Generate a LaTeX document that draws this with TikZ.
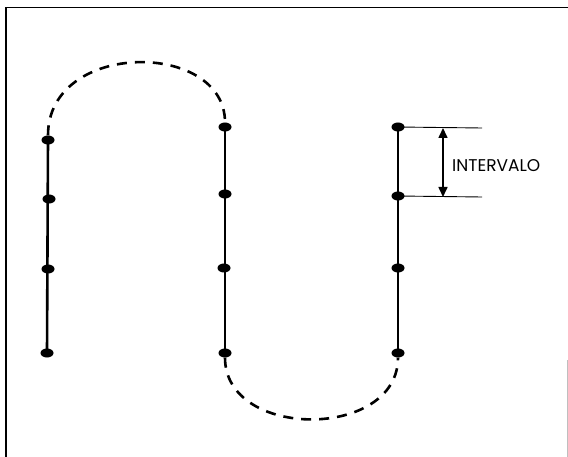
\documentclass[tikz,border=0pt]{standalone}
\usepackage{fontspec}
\setmainfont{Poppins}
\usetikzlibrary{arrows.meta,shapes.geometric}
\begin{document}
\begin{tikzpicture}[x=1pt,y=-1pt,
  dot/.style={ellipse,fill=black,inner sep=0pt,minimum width=13pt,minimum height=9pt},
  stem/.style={line width=2.6pt},
  trail/.style={line width=2.6pt,dash pattern=on 10pt off 8pt},
  guide/.style={line width=0.9pt},
  frame/.style={line width=1.6pt}]
\useasboundingbox (0,0) rectangle (568,457);
% frame
\draw[frame] (6,457) -- (6,7.5) -- (568,7.5);
\draw[line width=1pt,black!25] (567,360) -- (567,457);
% column 1
\node[dot] (a1) at (48,140) {};
\node[dot] (a2) at (49,199) {};
\node[dot] (a3) at (48,269) {};
\node[dot] (a4) at (47,353) {};
% column 2
\node[dot] (b1) at (225,127) {};
\node[dot] (b2) at (225,194) {};
\node[dot] (b3) at (224,268) {};
\node[dot] (b4) at (225,353) {};
% column 3
\node[dot] (c1) at (398,127) {};
\node[dot] (c2) at (398,196) {};
\node[dot] (c3) at (398,268) {};
\node[dot] (c4) at (398,353) {};
\draw[stem] (a1.center) -- (a4.center);
\draw[stem] (b1.center) -- (b4.center);
\draw[stem] (c1.center) -- (c4.center);
% dashed loops
\draw[trail] (a1.north) .. controls (48,40) and (225,40) .. (b1.north);
\draw[trail] (b4.south) .. controls (225,440) and (398,440) .. (c4.south);
% interval
\coordinate (g1) at (482,128);
\coordinate (g2) at (482,197);
\draw[guide] (c1.center) -- (g1);
\draw[guide] (c2.center) -- (g2);
\coordinate (t1) at (443,128);
\coordinate (t2) at (443,197);
\draw[line width=1.6pt,{Triangle[length=10pt,width=9pt]}-{Triangle[length=10pt,width=9pt]}] (t1) -- (t2);
\node[anchor=west,inner sep=0pt,font=\fontsize{17}{18}\selectfont] (lbl) at (452,166) {INTERVALO};
\end{tikzpicture}
\end{document}
